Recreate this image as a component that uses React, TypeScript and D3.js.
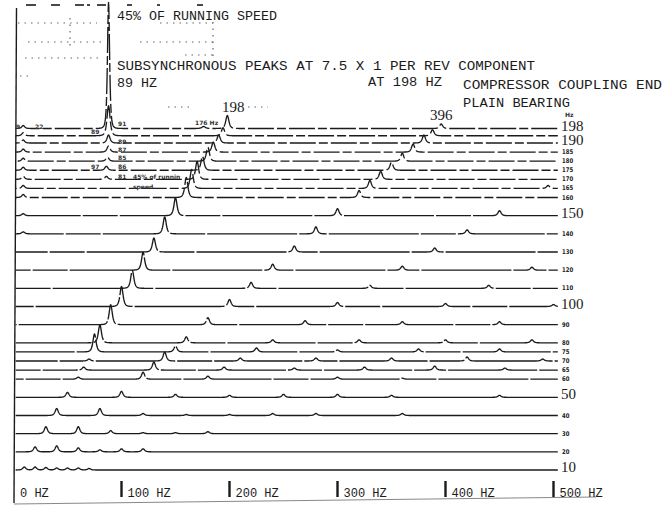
import React from 'react';
import * as d3 from 'd3';

// running speed of each trace in Hz, top to bottom (194 has no label)
const speeds = [198, 194, 190, 185, 180, 175, 170, 165, 160, 150, 140, 130, 120, 110, 100, 90, 80, 75, 70, 65, 60, 50, 40, 30, 20, 10];
const bigLabels = [198, 190, 150, 100, 50, 10];

// peak height at 1x, 2x, 3x ... running speed
const harmonics = [
  [13, 4.5], // 198
  [8, 6], // 194
  [8, 8], // 190
  [10, 8], // 185
  [14, 8], // 180
  [14, 8], // 175
  [18, 8], // 170
  [19, 8, 3], // 165
  [20, 7], // 160
  [18, 7, 5], // 150
  [17, 7, 4], // 140
  [14, 6, 4], // 130
  [18, 6, 4, 3], // 120
  [18, 6, 3, 3], // 110
  [20, 7, 4, 3, 2], // 100
  [20, 7, 4, 3, 3], // 90
  [18, 6, 3, 3, 3, 3], // 80
  [18, 6, 4, 2, 3, 3], // 75
  [2, 9, 3, 3, 3, 4, 2], // 70
  [3, 8, 3, 2, 3, 4, 2], // 65
  [2, 7, 3, 0, 2, 1], // 60
  [5, 6, 3, 2, 3, 3, 2, 0, 2], // 50
  [7, 7, 2, 1, 1, 2, 2, 0, 2], // 40
  [7, 7, 3, 1, 1, 2], // 30
  [5, 6, 4, 2, 3, 3], // 20
  [3, 3, 2.5, 2, 2, 2, 1.5], // 10
];

// subsynchronous peak (~89 Hz) on the top traces
const subsyncHz = [88, 88, 88, 88, 87, 86, 86];
const subsyncAmp = [126, 30, 8, 6, 4, 4, 3];

// little hook near 9 Hz on the upper traces
const lowHz = 9;
const lowAmp = [3, 3, 3, 3, 3, 3, 3, 3, 3, 2, 2];

const extraPeaks = [{ speed: 198, hz: 176, amp: 2 }];

const freqTicks = [0, 100, 200, 300, 400, 500];

// hand written notes on the plot
const notes = [
  { t: '9', x: 16, y: 129 },
  { t: '22', x: 35, y: 129 },
  { t: '89', x: 91, y: 134 },
  { t: '91', x: 118, y: 126 },
  { t: '89', x: 118, y: 144 },
  { t: '87', x: 118, y: 152 },
  { t: '85', x: 118, y: 160 },
  { t: '86', x: 118, y: 169 },
  { t: '97', x: 91, y: 169 },
  { t: '81', x: 118, y: 179 },
  { t: '45% of runnin', x: 133, y: 179 },
  { t: 'speed', x: 133, y: 189 },
  { t: '176 Hz', x: 195, y: 125 },
  { t: 'Hz', x: 565, y: 117 },
];

const typed = [
  { t: '45% OF RUNNING SPEED', x: 117, y: 20, w: 160 },
  { t: 'SUBSYNCHRONOUS PEAKS AT 7.5 X 1 PER REV COMPONENT', x: 117, y: 70, w: 418 },
  { t: '89 HZ', x: 117, y: 87, w: 40 },
  { t: 'AT 198 HZ', x: 368, y: 86, w: 74 },
  { t: 'COMPRESSOR COUPLING END', x: 463, y: 89, w: 199 },
  { t: 'PLAIN BEARING', x: 463, y: 107, w: 107 },
];

const peakLabels = [
  { t: '198', x: 222, y: 112 },
  { t: '396', x: 430, y: 120 },
];

// faint dotted grid left over in the scan (upper left)
const dotted = [
  [18, 23, 97, 23], [160, 23, 213, 23], [28, 42, 103, 42], [140, 42, 213, 42],
  [25, 58, 98, 58], [185, 55, 213, 55], [20, 76, 33, 76], [213, 22, 213, 60],
  [70, 18, 70, 48], [168, 107, 190, 107], [248, 107, 268, 107],
];
const topDashes = [[26, 36], [51, 60], [75, 84], [87, 90], [97, 106], [127, 132], [157, 160], [197, 203]];

const bump = (f: number, f0: number, a: number, w: number) =>
  a / Math.pow(1 + ((f - f0) / w) ** 2, 2);

export default function App() {
  const x = d3.scaleLinear().domain([0, 500]).range([13.5, 553.5]);
  const y = d3.scaleLinear().domain([10, 198]).range([470, 128.5]);
  const grid = d3.range(2, 504.01, 0.25);

  const traces = speeds.map((s, i) => {
    const peaks: number[][] = harmonics[i].map((a, k) => [(k + 1) * s, a, 2.6]);
    if (subsyncAmp[i]) peaks.push([subsyncHz[i], subsyncAmp[i], i === 0 ? 1.8 : 2.6]);
    if (lowAmp[i]) peaks.push([lowHz, lowAmp[i], 2.5]);
    extraPeaks.filter((p) => p.speed === s).forEach((p) => peaks.push([p.hz, p.amp, 3]));
    const line = d3
      .line<number>()
      .x((f) => x(f))
      .y((f) => y(s) - d3.sum(peaks, (p) => bump(f, p[0], p[1], p[2])));
    const dash = s >= 160 ? '26 3 9 3' : s >= 60 ? '90 2 35 2' : 'none';
    return { s, i, d: line(grid) || '', dash };
  });

  const ink = '#1b1b1b';

  return (
    <svg
      width={668}
      height={506}
      style={{ position: 'absolute', left: 0, top: 0, background: '#fff' }}
    >
      {/* scan leftovers */}
      <g stroke="#666" strokeWidth={1.2} strokeDasharray="1.5 5" fill="none">
        {dotted.map((l, k) => (
          <line key={k} x1={l[0]} y1={l[1]} x2={l[2]} y2={l[3]} />
        ))}
      </g>
      <g stroke={ink} strokeWidth={1.6}>
        {topDashes.map((d, k) => (
          <line key={k} x1={d[0]} x2={d[1]} y1={5} y2={5} />
        ))}
      </g>

      {/* frame */}
      <line x1={16.5} y1={8} x2={14} y2={503} stroke={ink} strokeWidth={1.4} />
      <line x1={14} y1={504} x2={596} y2={497} stroke="#888" strokeWidth={1} />

      {/* spectra */}
      <g fill="none" stroke={ink} strokeWidth={1.35} strokeLinejoin="round">
        {traces.map((t) => (
          <path
            key={t.s}
            d={t.d}
            strokeDasharray={t.dash}
            strokeDashoffset={t.i * 17}
          />
        ))}
      </g>

      {/* speed labels at right */}
      {speeds
        .filter((s) => s !== 194)
        .map((s) =>
          bigLabels.includes(s) ? (
            <text key={s} x={561} y={y(s) + 2} fontFamily="Liberation Serif" fontSize={15} fill={ink}>
              {s}
            </text>
          ) : (
            <text
              key={s}
              x={562}
              y={y(s) + 2}
              fontFamily="DejaVu Sans"
              fontWeight="bold"
              fontSize={6.5}
              fill="#222"
              textLength={String(s).length * 3.7}
              lengthAdjust="spacingAndGlyphs"
            >
              {s}
            </text>
          )
        )}

      {/* frequency axis */}
      {freqTicks.map((f) => (
        <g key={f}>
          {f > 0 && <line x1={x(f)} x2={x(f)} y1={481} y2={497} stroke={ink} strokeWidth={2.4} />}
          <text
            x={f > 0 ? x(f) + 6 : 20}
            y={497}
            fontFamily="Liberation Mono"
            fontSize={12}
            fill={ink}
            textLength={(f > 0 ? 6 : 4) * 7.2}
            lengthAdjust="spacingAndGlyphs"
          >
            {`${f} HZ`}
          </text>
        </g>
      ))}

      {/* typed annotations */}
      {typed.map((t) => (
        <text
          key={t.t}
          x={t.x}
          y={t.y}
          fontFamily="Liberation Mono"
          fontSize={13.5}
          fill={ink}
          textLength={t.w}
          lengthAdjust="spacingAndGlyphs"
        >
          {t.t}
        </text>
      ))}
      {peakLabels.map((t) => (
        <text key={t.t} x={t.x} y={t.y} fontFamily="Liberation Serif" fontSize={15} fill={ink}>
          {t.t}
        </text>
      ))}
      {notes.map((n, k) => (
        <text
          key={k}
          x={n.x}
          y={n.y}
          fontFamily="DejaVu Sans"
          fontWeight="bold"
          fontSize={6}
          fill="#333"
        >
          {n.t}
        </text>
      ))}
    </svg>
  );
}
